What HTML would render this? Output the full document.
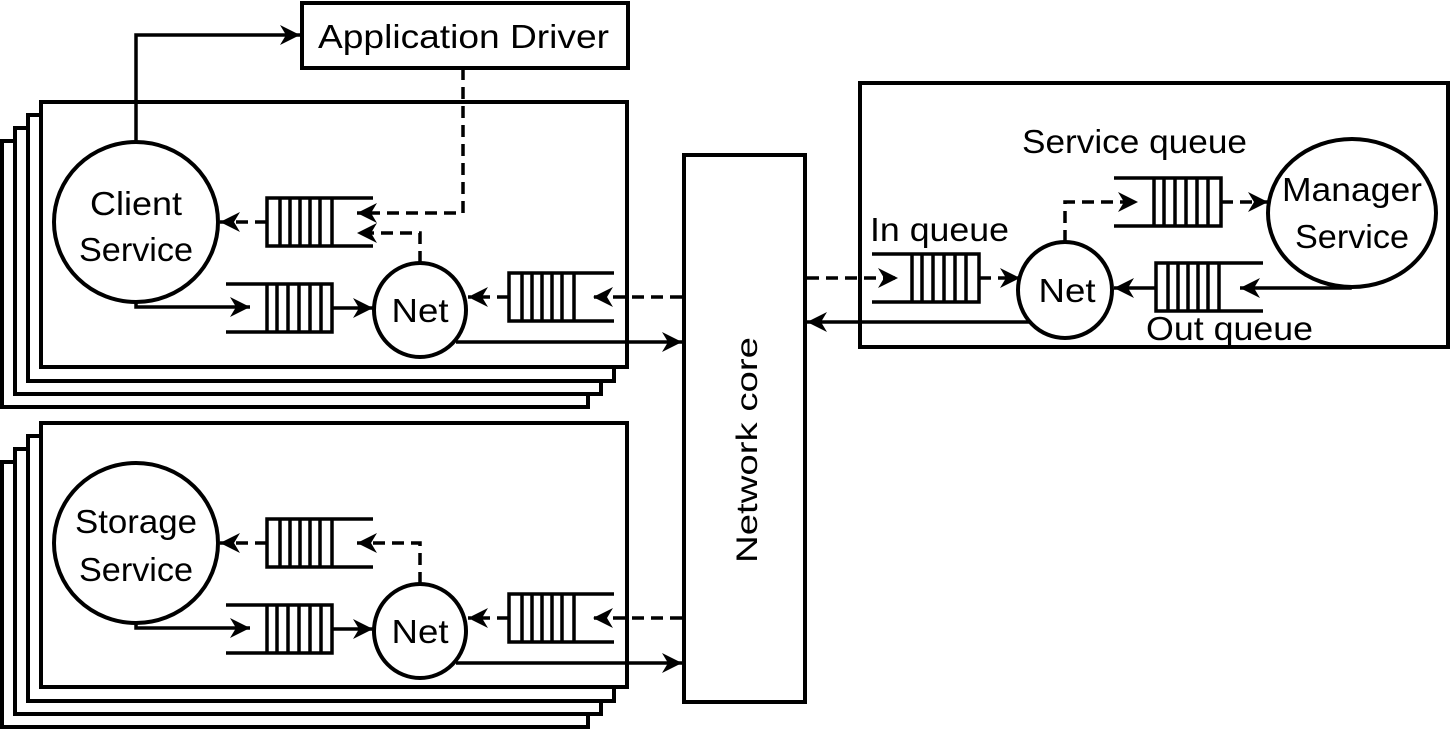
<!DOCTYPE html>
<html><head><meta charset="utf-8"><style>
html,body{margin:0;padding:0;background:#fff;}
svg{display:block;}
text{font-family:"Liberation Sans",sans-serif;fill:#000;}
</style></head><body>
<svg width="1452" height="733" viewBox="0 0 1452 733" xmlns="http://www.w3.org/2000/svg">
<defs>
<marker id="a" markerUnits="userSpaceOnUse" markerWidth="24" markerHeight="24" refX="20" refY="12" orient="auto">
<path d="M0,2 L20,12 L0,22 L6,12 Z" fill="#000"/>
</marker>
</defs>
<g fill="#fff" stroke="#000" stroke-width="4">
<rect x="2" y="141" width="586" height="266"/>
<rect x="15" y="128" width="586" height="266"/>
<rect x="28" y="115" width="586" height="266"/>
<rect x="41" y="102" width="586" height="265"/>
<rect x="2" y="462" width="586" height="265"/>
<rect x="15" y="449" width="586" height="265"/>
<rect x="28" y="436" width="586" height="265"/>
<rect x="41" y="423" width="586" height="264"/>
<rect x="302" y="3" width="326" height="65"/>
<rect x="684" y="155" width="121" height="547"/>
<rect x="860" y="83" width="588" height="264"/>
<ellipse cx="136" cy="222" rx="82" ry="80"/>
<ellipse cx="420" cy="310" rx="46" ry="47"/>
<ellipse cx="136" cy="543" rx="82" ry="80"/>
<ellipse cx="420" cy="631" rx="46" ry="47"/>
<ellipse cx="1065" cy="290" rx="47" ry="48"/>
<ellipse cx="1352" cy="213" rx="84" ry="74"/>
</g>

<g fill="none" stroke="#000" stroke-width="3.5">
<path d="M373,198 H267 V246 H373 M280,198 V246 M290,198 V246 M300,198 V246 M310,198 V246 M320,198 V246 M332,198 V246"/>
<path d="M226,284 H332 V332 H226 M267,284 V332 M277,284 V332 M288,284 V332 M299,284 V332 M310,284 V332 M321,284 V332"/>
<path d="M614,273 H509 V321 H614 M522,273 V321 M532,273 V321 M542,273 V321 M552,273 V321 M562,273 V321 M574,273 V321"/>
<path d="M373,519 H267 V567 H373 M280,519 V567 M290,519 V567 M300,519 V567 M310,519 V567 M320,519 V567 M332,519 V567"/>
<path d="M226,605 H332 V653 H226 M267,605 V653 M277,605 V653 M288,605 V653 M299,605 V653 M310,605 V653 M321,605 V653"/>
<path d="M614,594 H509 V642 H614 M522,594 V642 M532,594 V642 M542,594 V642 M552,594 V642 M562,594 V642 M574,594 V642"/>
<path d="M872,254 H979 V302 H872 M912,254 V302 M922,254 V302 M933,254 V302 M944,254 V302 M955,254 V302 M966,254 V302"/>
<path d="M1114,178 H1221 V226 H1114 M1154,178 V226 M1164,178 V226 M1175,178 V226 M1186,178 V226 M1197,178 V226 M1208,178 V226"/>
<path d="M1263,263 H1156 V311 H1263 M1168,263 V311 M1178,263 V311 M1188,263 V311 M1198,263 V311 M1208,263 V311 M1219,263 V311"/>

<path d="M136,142 V35 H300" marker-end="url(#a)"/>
<path d="M136,302 V307 H250" marker-end="url(#a)"/>
<path d="M332,308 H373" marker-end="url(#a)"/>
<path d="M456,342 H682" marker-end="url(#a)"/>
<path d="M136,623 V628 H250" marker-end="url(#a)"/>
<path d="M332,629 H373" marker-end="url(#a)"/>
<path d="M456,663 H682" marker-end="url(#a)"/>
<path d="M1350,285 V288 H1240" marker-end="url(#a)"/>
<path d="M1156,288 H1114" marker-end="url(#a)"/>
<path d="M1030,322 H807" marker-end="url(#a)"/>
</g>

<g fill="none" stroke="#000" stroke-width="3.5" stroke-dasharray="12,7">
<path d="M463,68 V213 H357" marker-end="url(#a)"/>
<path d="M420,263 V233 H357" marker-end="url(#a)"/>
<path d="M267,222 H220" marker-end="url(#a)"/>
<path d="M682,297 H593" marker-end="url(#a)"/>
<path d="M509,297 H468" marker-end="url(#a)"/>
<path d="M420,584 V543 H357" marker-end="url(#a)"/>
<path d="M267,543 H220" marker-end="url(#a)"/>
<path d="M682,618 H593" marker-end="url(#a)"/>
<path d="M509,618 H468" marker-end="url(#a)"/>
<path d="M807,278 H898" marker-end="url(#a)"/>
<path d="M979,278 H1020" marker-end="url(#a)"/>
<path d="M1065,242 V202 H1138" marker-end="url(#a)"/>
<path d="M1221,202 H1268" marker-end="url(#a)"/>
</g>

<g font-size="33">
<text x="318" y="48" textLength="291" lengthAdjust="spacingAndGlyphs">Application Driver</text>
<text x="136" y="215" text-anchor="middle" textLength="92" lengthAdjust="spacingAndGlyphs">Client</text>
<text x="136" y="261" text-anchor="middle" textLength="114" lengthAdjust="spacingAndGlyphs">Service</text>
<text x="420" y="322" text-anchor="middle" textLength="57" lengthAdjust="spacingAndGlyphs">Net</text>
<text x="136" y="533" text-anchor="middle" textLength="122" lengthAdjust="spacingAndGlyphs">Storage</text>
<text x="136" y="581" text-anchor="middle" textLength="114" lengthAdjust="spacingAndGlyphs">Service</text>
<text x="420" y="643" text-anchor="middle" textLength="57" lengthAdjust="spacingAndGlyphs">Net</text>
<text x="1067" y="302" text-anchor="middle" textLength="57" lengthAdjust="spacingAndGlyphs">Net</text>
<text x="1352" y="201" text-anchor="middle" textLength="140" lengthAdjust="spacingAndGlyphs">Manager</text>
<text x="1352" y="248" text-anchor="middle" textLength="114" lengthAdjust="spacingAndGlyphs">Service</text>
<text x="1022" y="153" textLength="225" lengthAdjust="spacingAndGlyphs">Service queue</text>
<text x="870" y="241" textLength="139" lengthAdjust="spacingAndGlyphs">In queue</text>
<text x="1146" y="340" textLength="167" lengthAdjust="spacingAndGlyphs">Out queue</text>
<text transform="translate(757,563) rotate(-90)" textLength="226" lengthAdjust="spacingAndGlyphs" font-size="30">Network core</text>
</g>
</svg>
</body></html>
